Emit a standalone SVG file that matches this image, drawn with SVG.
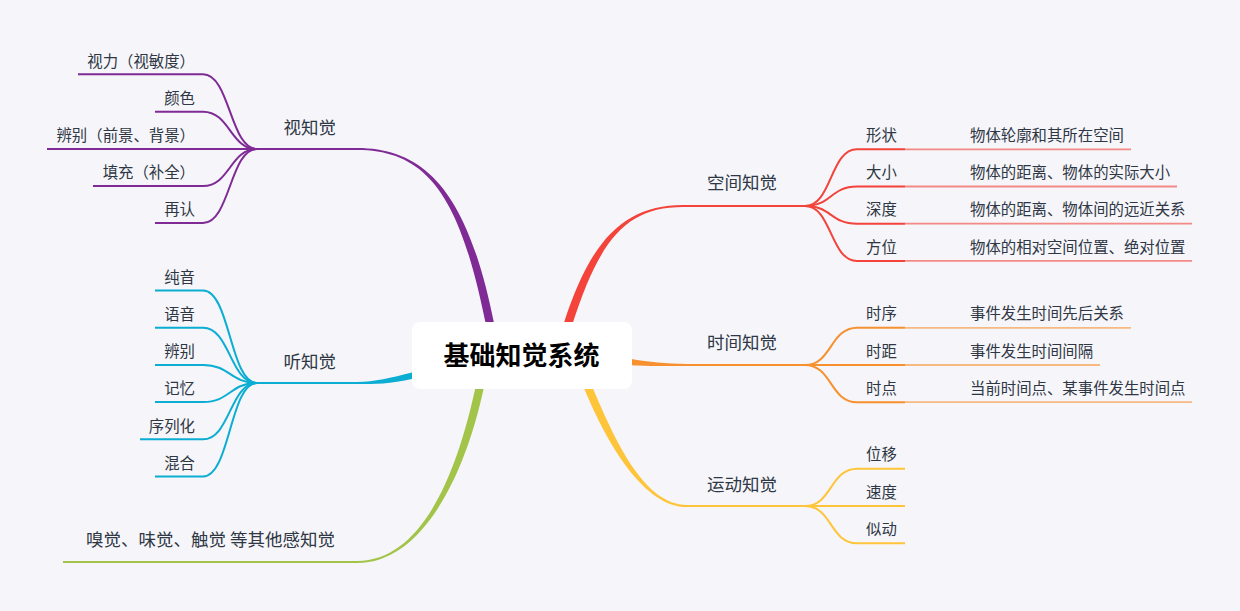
<svg xmlns="http://www.w3.org/2000/svg" width="1240" height="611" viewBox="0 0 1240 611">
<style>
text{font-family:"Noto Sans CJK SC","Noto Sans",sans-serif;fill:#2F3744;text-spacing-trim:space-all}
.main{font-size:17.5px}
.sub{font-size:15.4px}
.l{text-anchor:end}
.c{fill:none;stroke-width:2}
.u{fill:none;stroke-width:2}
.lt{fill:none;stroke-width:1.8;stroke-opacity:0.6}
.pu{stroke:#7F2A95}.cy{stroke:#0BADD2}.gr{stroke:#A2C449}.rd{stroke:#F3433A}.or{stroke:#F7912F}.ye{stroke:#FFC53A}
</style>
<rect x="0" y="0" width="1240" height="611" fill="#F5F5FA"/>
<g id="connectors">
<path d="M 494.2,324 C 469.2,199.2 430,147.9 357,147.9 L 357,150.1 C 430,150.1 460.8,200.8 485.8,324 Z" fill="#7F2A95"/>
<path d="M 413,372.3 C 390,378 375,381.9 357,381.9 L 357,384.1 C 375,384.1 390,384 413,378.7 Z" fill="#0BADD2"/>
<path d="M 475.8,386 C 455.8,479.1 420,560.9 357,560.9 L 357,563.1 C 420,563.1 464.2,480.9 484.2,386 Z" fill="#A2C449"/>
<path d="M 563.9,323 C 590.9,238.75 625,204.9 683,204.9 L 683,207.1 C 625,207.1 599.1,241.25 572.1,325 Z" fill="#F3433A"/>
<path d="M 630,358.8 C 650,362 665,363.9 687,363.9 L 687,366.1 C 665,366.1 650,366 630,365.2 Z" fill="#F7912F"/>
<path d="M 592,386 C 616,443.4 645,504.9 687,504.9 L 687,507.1 C 645,507.1 608,446.6 584,388 Z" fill="#FFC53A"/>
<path class="c pu" d="M 357,149 L 257,149"/>
<path class="c cy" d="M 357,383 L 257,383"/>
<path class="c gr" d="M 357,562 L 63,562"/>
<path class="c rd" d="M 683,206 L 805,206"/>
<path class="c or" d="M 687,365 L 805,365"/>
<path class="c ye" d="M 687,506 L 805,506"/>
<path class="c pu" d="M 257,149 C 230,149 230,74.3 203,74.3"/>
<path class="c pu" d="M 257,149 C 230,149 230,111.7 203,111.7"/>
<path class="c pu" d="M 257,149 C 230,149 230,186 203,186"/>
<path class="c pu" d="M 257,149 C 230,149 230,223 203,223"/>
<path class="c cy" d="M 257,383 C 230,383 230,290.5 203,290.5"/>
<path class="c cy" d="M 257,383 C 230,383 230,327.7 203,327.7"/>
<path class="c cy" d="M 257,383 C 230,383 230,364.9 203,364.9"/>
<path class="c cy" d="M 257,383 C 230,383 230,402.1 203,402.1"/>
<path class="c cy" d="M 257,383 C 230,383 230,439.3 203,439.3"/>
<path class="c cy" d="M 257,383 C 230,383 230,476.5 203,476.5"/>
<path class="c rd" d="M 805,206 C 832,206 830,149.3 857,149.3"/>
<path class="c rd" d="M 805,206 C 832,206 830,186.5 857,186.5"/>
<path class="c rd" d="M 805,206 C 832,206 830,223.7 857,223.7"/>
<path class="c rd" d="M 805,206 C 832,206 830,260.9 857,260.9"/>
<path class="c or" d="M 805,365 C 832,365 830,327.8 857,327.8"/>
<path class="c or" d="M 805,365 C 832,365 830,365 857,365"/>
<path class="c or" d="M 805,365 C 832,365 830,402.2 857,402.2"/>
<path class="c ye" d="M 805,506 C 832,506 830,468.8 857,468.8"/>
<path class="c ye" d="M 805,506 C 832,506 830,506 857,506"/>
<path class="c ye" d="M 805,506 C 832,506 830,543.2 857,543.2"/>
<path class="lt rd" d="M 905,149.3 L 960,149.3"/>
<path class="lt rd" d="M 905,186.5 L 960,186.5"/>
<path class="lt rd" d="M 905,223.7 L 960,223.7"/>
<path class="lt rd" d="M 905,260.9 L 960,260.9"/>
<path class="lt or" d="M 905,327.8 L 960,327.8"/>
<path class="lt or" d="M 905,365 L 960,365"/>
<path class="lt or" d="M 905,402.2 L 960,402.2"/>
</g>
<g id="root">
<rect x="412" y="322" width="220" height="67" rx="8" fill="#FFFFFF"/>
<text x="521.5" y="364.5" text-anchor="middle" style="font-size:26px;font-weight:bold;fill:#000000">基础知觉系统</text>
</g>
<g id="t-visual"><text class="main l" x="336" y="133.5">视知觉</text></g>
<g id="t-visual-1"><path class="u pu" d="M 78,74.3 L 203,74.3"/><text class="sub l" x="195" y="66.5">视力（视敏度）</text></g>
<g id="t-visual-2"><path class="u pu" d="M 155,111.7 L 203,111.7"/><text class="sub l" x="195" y="103.9">颜色</text></g>
<g id="t-visual-3"><path class="u pu" d="M 47,149 L 257,149"/><text class="sub l" x="195" y="141.2">辨别（前景、背景）</text></g>
<g id="t-visual-4"><path class="u pu" d="M 93,186 L 203,186"/><text class="sub l" x="195" y="178.2">填充（补全）</text></g>
<g id="t-visual-5"><path class="u pu" d="M 155,223 L 203,223"/><text class="sub l" x="195" y="215.2">再认</text></g>
<g id="t-audio"><text class="main l" x="336" y="367.5">听知觉</text></g>
<g id="t-audio-1"><path class="u cy" d="M 155,290.5 L 203,290.5"/><text class="sub l" x="195" y="282.7">纯音</text></g>
<g id="t-audio-2"><path class="u cy" d="M 155,327.7 L 203,327.7"/><text class="sub l" x="195" y="319.9">语音</text></g>
<g id="t-audio-3"><path class="u cy" d="M 155,364.9 L 203,364.9"/><text class="sub l" x="195" y="357.1">辨别</text></g>
<g id="t-audio-4"><path class="u cy" d="M 155,402.1 L 203,402.1"/><text class="sub l" x="195" y="394.3">记忆</text></g>
<g id="t-audio-5"><path class="u cy" d="M 140,439.3 L 203,439.3"/><text class="sub l" x="195" y="431.5">序列化</text></g>
<g id="t-audio-6"><path class="u cy" d="M 155,476.5 L 203,476.5"/><text class="sub l" x="195" y="468.7">混合</text></g>
<g id="t-other"><text class="main l" x="335" y="546">嗅觉、味觉、触觉 等其他感知觉</text></g>
<g id="t-space"><text class="main" x="707" y="189.2">空间知觉</text></g>
<g id="t-space-1"><path class="u rd" d="M 857,149.3 L 905,149.3"/><text class="sub" x="866" y="140.9">形状</text></g>
<g id="t-space-2"><path class="u rd" d="M 857,186.5 L 905,186.5"/><text class="sub" x="866" y="178.1">大小</text></g>
<g id="t-space-3"><path class="u rd" d="M 857,223.7 L 905,223.7"/><text class="sub" x="866" y="215.3">深度</text></g>
<g id="t-space-4"><path class="u rd" d="M 857,260.9 L 905,260.9"/><text class="sub" x="866" y="252.5">方位</text></g>
<g id="t-space-1a"><path class="lt rd" d="M 960,149.3 L 1131,149.3"/><text class="sub" x="970" y="140.9">物体轮廓和其所在空间</text></g>
<g id="t-space-2a"><path class="lt rd" d="M 960,186.5 L 1177,186.5"/><text class="sub" x="970" y="178.1">物体的距离、物体的实际大小</text></g>
<g id="t-space-3a"><path class="lt rd" d="M 960,223.7 L 1192,223.7"/><text class="sub" x="970" y="215.3">物体的距离、物体间的远近关系</text></g>
<g id="t-space-4a"><path class="lt rd" d="M 960,260.9 L 1192,260.9"/><text class="sub" x="970" y="252.5">物体的相对空间位置、绝对位置</text></g>
<g id="t-time"><text class="main" x="707" y="349.2">时间知觉</text></g>
<g id="t-time-1"><path class="u or" d="M 857,327.8 L 905,327.8"/><text class="sub" x="866" y="319.4">时序</text></g>
<g id="t-time-2"><path class="u or" d="M 857,365 L 905,365"/><text class="sub" x="866" y="356.6">时距</text></g>
<g id="t-time-3"><path class="u or" d="M 857,402.2 L 905,402.2"/><text class="sub" x="866" y="393.8">时点</text></g>
<g id="t-time-1a"><path class="lt or" d="M 960,327.8 L 1131,327.8"/><text class="sub" x="970" y="319.4">事件发生时间先后关系</text></g>
<g id="t-time-2a"><path class="lt or" d="M 960,365 L 1100,365"/><text class="sub" x="970" y="356.6">事件发生时间间隔</text></g>
<g id="t-time-3a"><path class="lt or" d="M 960,402.2 L 1192,402.2"/><text class="sub" x="970" y="393.8">当前时间点、某事件发生时间点</text></g>
<g id="t-motion"><text class="main" x="707" y="491.3">运动知觉</text></g>
<g id="t-motion-1"><path class="u ye" d="M 857,468.8 L 905,468.8"/><text class="sub" x="866" y="460.4">位移</text></g>
<g id="t-motion-2"><path class="u ye" d="M 857,506 L 905,506"/><text class="sub" x="866" y="497.6">速度</text></g>
<g id="t-motion-3"><path class="u ye" d="M 857,543.2 L 905,543.2"/><text class="sub" x="866" y="534.8">似动</text></g>
</svg>
